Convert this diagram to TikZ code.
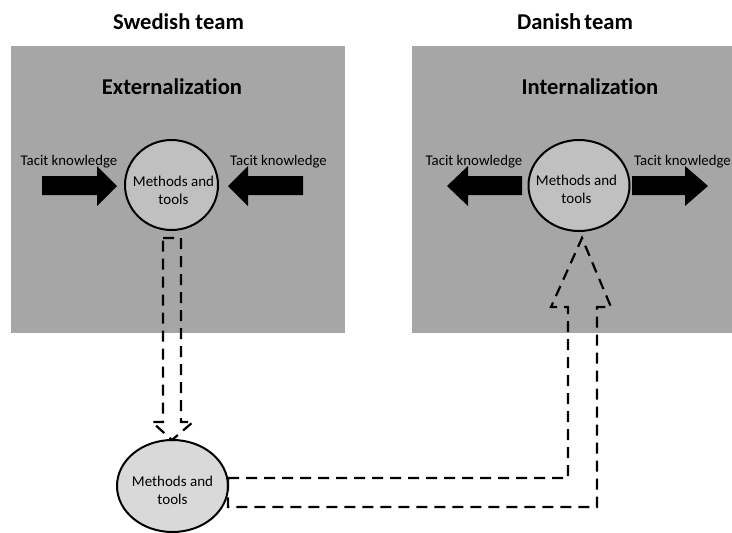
\documentclass[tikz,border=0pt]{standalone}
\usepackage{fontspec}
\setmainfont{Carlito}[Ligatures={NoCommon}]
\usetikzlibrary{shapes.geometric}
\definecolor{panelgray}{HTML}{A6A6A6}
\definecolor{discgray}{HTML}{C0C0C0}
\definecolor{disclight}{HTML}{D9D9D9}
\begin{document}
\begin{tikzpicture}[x=1pt,y=-1pt,
  panel/.style={fill=panelgray,draw=none},
  title/.style={font=\bfseries\fontsize{22.6}{26}\selectfont,inner sep=0pt},
  tacit/.style={font=\fontsize{14.8}{17}\selectfont,inner sep=0pt},
  disc/.style={ellipse,draw=black,line width=2pt,fill=discgray,inner sep=0pt},
  disctext/.style={font=\fontsize{15}{18}\selectfont,align=center,inner sep=0pt},
  solidarrow/.style={fill=black,draw=none},
  flowarrow/.style={draw=black,line width=2.2pt,dash pattern=on 11pt off 7pt,line join=miter}]
\useasboundingbox (0,0) rectangle (732,533);

% team panels
\fill[panel] (11,46) rectangle (345,333);
\fill[panel] (412,46) rectangle (732,333);

% headings
\node[title] (swe) at (178.5,22) {Swedish team};
\node[title] (dan) at (575,22) {Danish\hspace{-2pt} team};
\node[title] (ext) at (172,87) {Externalization};
\node[title] (int) at (590,87) {Internalization};

% methods and tools discs
\node[disc,minimum width=93pt,minimum height=90pt] (mtL) at (171.5,185) {};
\node[disctext] at (173.5,190) {Methods and\\tools};
\node[disc,minimum width=101pt,minimum height=91pt] (mtR) at (579,185.5) {};
\node[disctext] at (576.5,189.5) {Methods and\\tools};
\node[disc,fill=disclight,minimum width=111pt,minimum height=92pt] (mtB) at (172.5,486) {};
\node[disctext] at (172.5,490) {Methods and\\tools};

% tacit knowledge labels
\node[tacit] (tk1) at (69,162) {Tacit knowledge};
\node[tacit] (tk2) at (278.5,162) {Tacit knowledge};
\node[tacit] (tk3) at (474,162) {Tacit knowledge};
\node[tacit] (tk4) at (682.5,162) {Tacit knowledge};

% solid block arrows: into the Swedish disc
\fill[solidarrow] (42,176) -- (97,176) -- (97,166) -- (117,186) -- (97,206)
  -- (97,195) -- (42,195) -- cycle;
\fill[solidarrow] (303,176) -- (248,176) -- (248,166) -- (228,186) -- (248,206)
  -- (248,195) -- (303,195) -- cycle;
% solid block arrows: out of the Danish disc
\fill[solidarrow] (522,176) -- (468,176) -- (468,166) -- (447,186) -- (468,206)
  -- (468,195) -- (522,195) -- cycle;
\fill[solidarrow] (632,176) -- (685,176) -- (685,166) -- (708,186) -- (685,206)
  -- (685,195) -- (632,195) -- cycle;

% dashed transfer arrow down to the shared disc
\draw[flowarrow] (163,238) -- (181,238) -- (181,422) -- (193,422) -- (172,440)
  -- (152,422) -- (163,422) -- cycle;

% dashed transfer arrow from the shared disc up to the Danish disc
\draw[flowarrow] (228,478) -- (568,478) -- (568,307) -- (551,307) -- (582,238)
  -- (611,307) -- (597,307) -- (597,507) -- (228,507) -- cycle;
\end{tikzpicture}
\end{document}
